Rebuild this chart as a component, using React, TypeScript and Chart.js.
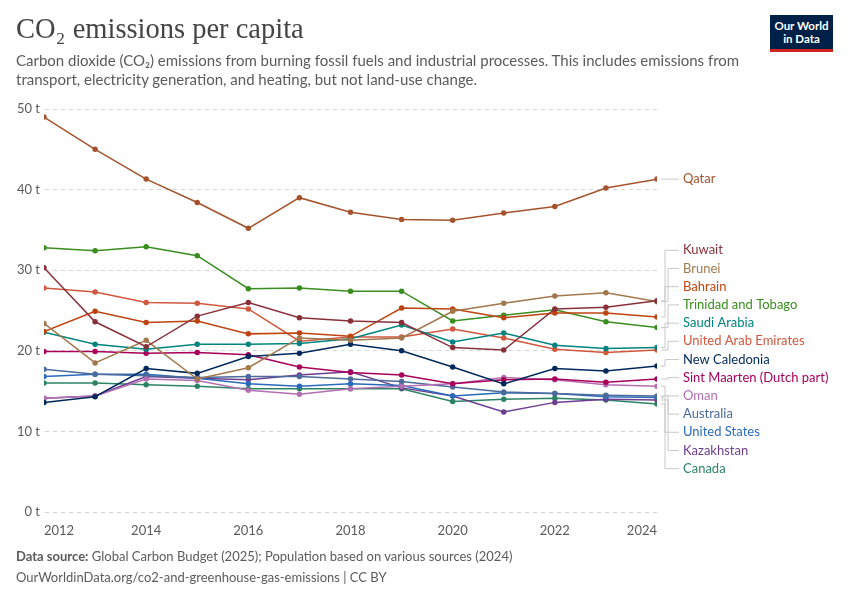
import React, { useEffect, useRef } from "react";
import { Chart, registerables } from "chart.js";
Chart.register(...registerables);

const years = [2012, 2013, 2014, 2015, 2016, 2017, 2018, 2019, 2020, 2021, 2022, 2023, 2024];
const qatar = [49, 45, 41.3, 38.4, 35.2, 39, 37.2, 36.3, 36.2, 37.1, 37.9, 40.2, 41.3];
const kuwait = [30.3, 23.6, 20.5, 24.3, 26, 24.1, 23.7, 23.5, 20.4, 20.1, 25.2, 25.4, 26.2];
const brunei = [23.4, 18.5, 21.3, 16.5, 17.9, 21.6, 21.3, 21.6, 24.9, 25.9, 26.8, 27.2, 26.1];
const bahrain = [22.4, 24.9, 23.5, 23.7, 22.1, 22.2, 21.8, 25.3, 25.2, 24.1, 24.7, 24.7, 24.2];
const trinidad = [32.8, 32.4, 32.9, 31.8, 27.7, 27.8, 27.4, 27.4, 23.7, 24.4, 25.1, 23.6, 22.9];
const saudi = [22.3, 20.8, 20.2, 20.8, 20.8, 20.9, 21.5, 23.2, 21.1, 22.2, 20.7, 20.3, 20.4];
const uae = [27.8, 27.3, 26, 25.9, 25.2, 21.2, 21.7, 21.7, 22.7, 21.6, 20.2, 19.8, 20.1];
const newCaledonia = [13.6, 14.3, 17.8, 17.2, 19.3, 19.7, 20.8, 20, 18, 15.9, 17.8, 17.5, 18.1];
const sintMaarten = [19.9, 19.9, 19.7, 19.8, 19.5, 18, 17.3, 17, 15.9, 16.4, 16.5, 16.1, 16.5];
const oman = [14.1, 14.4, 16.5, 16.3, 15.1, 14.6, 15.3, 15.6, 15.9, 16.7, 16.4, 15.8, 15.6];
const australia = [17.7, 17.1, 16.9, 16.7, 16.8, 16.8, 16.5, 16.2, 15.5, 14.9, 14.7, 14.5, 14.4];
const unitedStates = [16.8, 17.1, 17.1, 16.6, 15.9, 15.6, 15.9, 15.7, 14.4, 14.8, 14.7, 14.3, 14.2];
const kazakhstan = [14.1, 14.4, 16.8, 16.6, 16.4, 17, 17.4, 15.4, 14.4, 12.4, 13.6, 14.0, 13.9];
const canada = [16.0, 16.0, 15.8, 15.6, 15.3, 15.3, 15.3, 15.3, 13.7, 14.0, 14.1, 13.9, 13.4];

const series = [
  { name: "Qatar", data: qatar, color: "#a5532d" },
  { name: "Kuwait", data: kuwait, color: "#883039" },
  { name: "Brunei", data: brunei, color: "#a2784d" },
  { name: "Bahrain", data: bahrain, color: "#bd4410" },
  { name: "Trinidad and Tobago", data: trinidad, color: "#3a8e1f" },
  { name: "Saudi Arabia", data: saudi, color: "#00847e" },
  { name: "United Arab Emirates", data: uae, color: "#d0573d" },
  { name: "New Caledonia", data: newCaledonia, color: "#00295b" },
  { name: "Sint Maarten (Dutch part)", data: sintMaarten, color: "#a8005a" },
  { name: "Oman", data: oman, color: "#b46fb2" },
  { name: "Australia", data: australia, color: "#4c6a9c" },
  { name: "United States", data: unitedStates, color: "#286bbb" },
  { name: "Kazakhstan", data: kazakhstan, color: "#6d3e91" },
  { name: "Canada", data: canada, color: "#2c8465" },
];

const FONT = "Lato, 'Noto Sans', sans-serif";

const labelPlugin = {
  id: "endLabels",
  afterDraw(chart: any) {
    const { ctx } = chart;
    const x = chart.scales.x;
    const y = chart.scales.y;
    const xe = x.getPixelForValue(2024);
    const gap = 18.2;
    let items = series.map((s) => {
      const yd = y.getPixelForValue(s.data[s.data.length - 1]);
      return { s, yd, yl: yd };
    });
    items.sort((a, b) => a.yd - b.yd);
    let clusters: any[] = items.map((it) => ({ items: [it], top: it.yd }));
    let changed = true;
    while (changed) {
      changed = false;
      for (let i = 0; i < clusters.length - 1; i++) {
        const a = clusters[i], b = clusters[i + 1];
        if (a.top + a.items.length * gap > b.top) {
          const its = a.items.concat(b.items);
          const mean = its.reduce((m: number, t: any) => m + t.yd, 0) / its.length;
          clusters.splice(i, 2, { items: its, top: mean - ((its.length - 1) * gap) / 2 });
          changed = true;
          break;
        }
      }
    }
    ctx.save();
    ctx.font = `13px ${FONT}`;
    ctx.textBaseline = "middle";
    for (const c of clusters) {
      c.items.forEach((it: any, i: number) => {
        const yl = c.top + i * gap;
        const multi = c.items.length > 1;
        ctx.strokeStyle = "#c8c8c8";
        ctx.lineWidth = 1;
        ctx.beginPath();
        if (multi) {
          const bx = xe + 8 + (i % 2) * 3;
          ctx.moveTo(xe + 4, it.yd);
          ctx.lineTo(bx, it.yd);
          ctx.lineTo(bx, yl);
          ctx.lineTo(xe + 22, yl);
        } else {
          ctx.moveTo(xe + 4, it.yd);
          ctx.lineTo(xe + 22, yl);
        }
        ctx.stroke();
        ctx.fillStyle = it.s.color;
        ctx.fillText(it.s.name, xe + 26, yl);
      });
    }
    ctx.restore();
  },
};

export default function App() {
  const ref = useRef<HTMLCanvasElement>(null);
  useEffect(() => {
    document.body.style.margin = "0";
    const chart = new Chart(ref.current!, {
      type: "line",
      data: {
        datasets: series.map((s) => ({
          label: s.name,
          data: years.map((yr, i) => ({ x: yr, y: s.data[i] })),
          borderColor: s.color,
          backgroundColor: s.color,
          borderWidth: 1.5,
          pointRadius: 2,
          pointHoverRadius: 2,
          tension: 0,
        })),
      },
      options: {
        animation: false,
        responsive: false,
        layout: { padding: { left: 0, top: 109, right: 193, bottom: 63 } },
        plugins: { legend: { display: false }, tooltip: { enabled: false } },
        scales: {
          x: {
            type: "linear",
            min: 2012,
            max: 2024,
            grid: { display: false },
            border: { display: false },
            ticks: {
              stepSize: 2,
              align: "inner",
              color: "#5b5b5b",
              font: { family: FONT, size: 13 },
              callback: (v: any) => String(v),
            },
            afterFit: (s: any) => { s.height = 25; },
          },
          y: {
            min: 0,
            max: 50,
            grid: { color: "#d6d6d6", tickLength: 0 },
            border: { display: true, color: "rgba(0,0,0,0)", dash: [4, 4] },
            ticks: {
              stepSize: 10,
              color: "#5b5b5b",
              font: { family: FONT, size: 13 },
              padding: 4,
              callback: (v: any) => `${v} t`,
            },
            afterFit: (s: any) => { s.width = 44; },
          },
        },
      },
      plugins: [labelPlugin],
    } as any);
    return () => chart.destroy();
  }, []);

  return (
    <div style={{ position: "relative", width: 850, height: 600, background: "#fff", fontFamily: FONT }}>
      <canvas ref={ref} width={850} height={600} style={{ position: "absolute", left: 0, top: 0 }} />
      <div style={{ position: "absolute", left: 16, top: 13, fontFamily: "'Liberation Serif', 'DejaVu Serif', serif", fontSize: 28.5, color: "#444" }}>
        CO₂ emissions per capita
      </div>
      <div style={{ position: "absolute", left: 16, top: 51, width: 740, fontSize: 15, lineHeight: "19px", color: "#5b5b5b" }}>
        Carbon dioxide (CO₂) emissions from burning fossil fuels and industrial processes. This includes emissions from transport, electricity generation, and heating, but not land-use change.
      </div>
      <div style={{ position: "absolute", left: 770, top: 15, width: 63, height: 37, background: "#002147", borderBottom: "3px solid #ce261e", color: "#fff", fontSize: 11.5, fontWeight: 700, lineHeight: "13px", textAlign: "center", paddingTop: 4, boxSizing: "border-box" }}>
        Our World<br />in Data
      </div>
      <div style={{ position: "absolute", left: 16, top: 548, fontSize: 13, color: "#5b5b5b" }}>
        <b>Data source:</b> Global Carbon Budget (2025); Population based on various sources (2024)
      </div>
      <div style={{ position: "absolute", left: 16, top: 569, fontSize: 13, color: "#5b5b5b" }}>
        OurWorldinData.org/co2-and-greenhouse-gas-emissions | CC BY
      </div>
    </div>
  );
}
